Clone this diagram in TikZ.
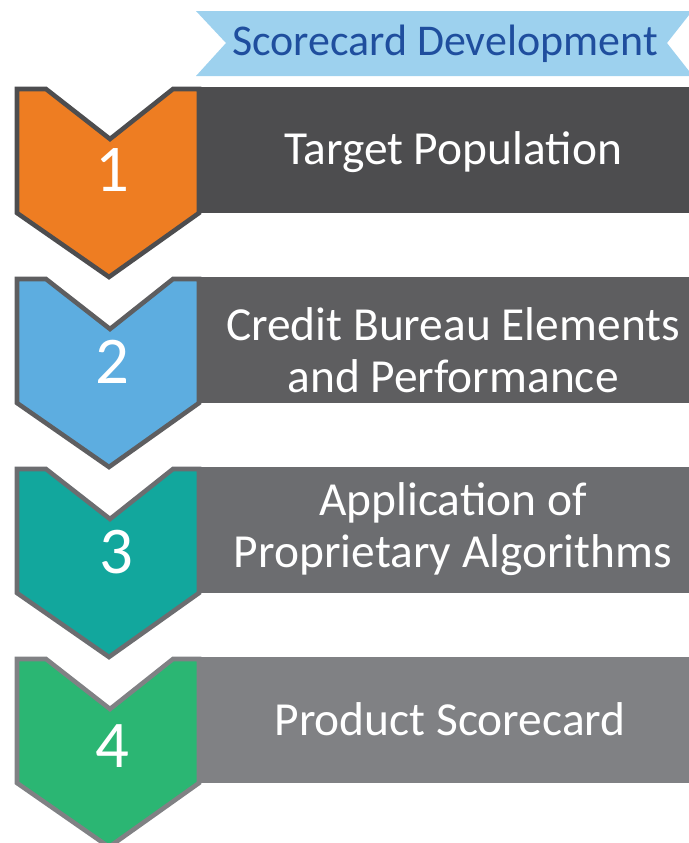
\documentclass[tikz,border=0pt]{standalone}
\usepackage{fontspec}
\setmainfont{Carlito}
\usetikzlibrary{positioning}

\definecolor{ribbon}{HTML}{9DD1EE}
\definecolor{ribbontext}{HTML}{1F4E9E}
\definecolor{bar1}{HTML}{4D4D4F}
\definecolor{bar2}{HTML}{5E5E60}
\definecolor{bar3}{HTML}{6C6D70}
\definecolor{bar4}{HTML}{808184}
\definecolor{step1}{HTML}{EE7D22}
\definecolor{step2}{HTML}{5DADE0}
\definecolor{step3}{HTML}{12A79D}
\definecolor{step4}{HTML}{2BB673}

% chevron outline, drawn from its top left corner
\def\chev{-- ++(29,0) -- ++(64,50) -- ++(63,-50) -- ++(26,0) -- ++(0,124) -- ++(-90,64) -- ++(-92,-64) -- cycle}

\begin{document}
\begin{tikzpicture}
		[x=0.02cm,y=-0.02cm,
		chevron/.style={line width=2.6pt,line join=miter},
		steptext/.style={text=white,align=center,font=\fontsize{27}{29.5}\selectfont},
		stepnum/.style={text=white,font=\fontsize{38}{40}\selectfont}]
		\useasboundingbox (0,0) rectangle (689,843);
		
		% banner
		\fill[ribbon] (196,11) -- (689,11) -- (689,15) -- (667,43) -- (689,71) -- (689,76) -- (196,76) -- (226,43) -- cycle;
		\node[text=ribbontext,font=\fontsize{25}{28}\selectfont] (title) at (445,44) {Scorecard Development};
		
		% bars
		\fill[bar1] (190,87) rectangle (689,213);
		\fill[bar2] (190,277) rectangle (689,403);
		\fill[bar3] (190,467) rectangle (689,593);
		\fill[bar4] (190,657) rectangle (689,783);
		
		% chevrons
		\draw[chevron,draw=bar1,fill=step1] (17,89) \chev;
		\draw[chevron,draw=bar2,fill=step2] (17,279) \chev;
		\draw[chevron,draw=bar3,fill=step3] (17,469) \chev;
		\draw[chevron,draw=bar4,fill=step4] (17,659) \chev;
		
		\node[stepnum] (n1) at (112,170) {1};
		\node[stepnum] (n2) at (112,362) {2};
		\node[stepnum] (n3) at (116,552) {3};
		\node[stepnum] (n4) at (112,746) {4};
		
		\node[steptext] (t1) at (453,152) {Target Population};
		\node[steptext] (t2) at (453,350) {Credit Bureau Elements\\and Performance};
		\node[steptext] (t3) at (453,529) {Application of\\Proprietary Algorithms};
		\node[steptext] (t4) at (450,719) {Product Scorecard};
		\end{tikzpicture}
\end{document}
